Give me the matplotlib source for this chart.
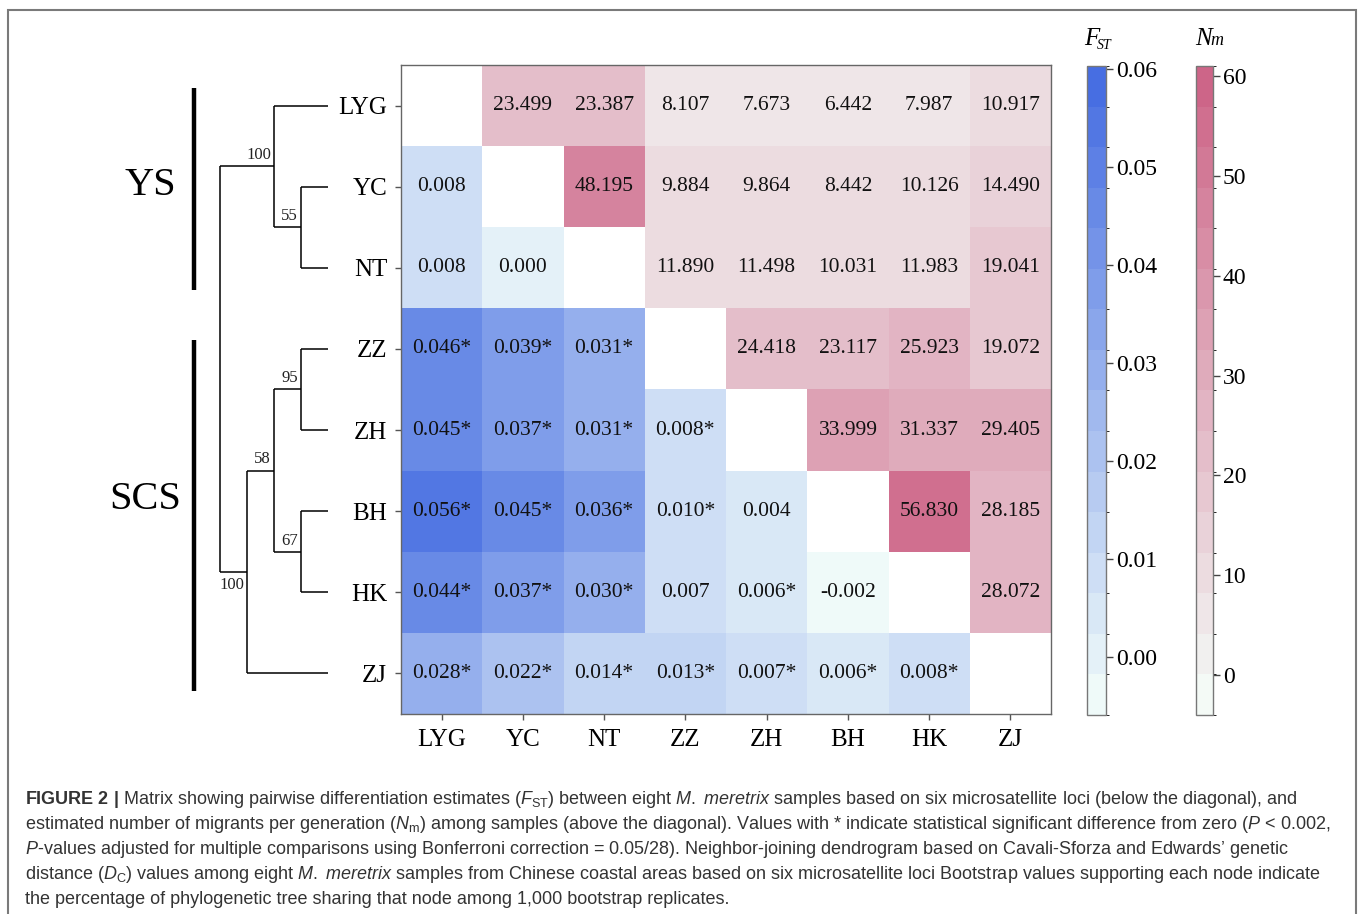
import numpy as np
import matplotlib
matplotlib.use("Agg")
import matplotlib.pyplot as plt
from matplotlib.colors import ListedColormap, BoundaryNorm
from matplotlib.patches import Rectangle
import matplotlib.cm as cm

# ---------------- data ----------------
populations = ["LYG", "YC", "NT", "ZZ", "ZH", "BH", "HK", "ZJ"]

# pairwise FST (below the diagonal), row by row
fst_lower = [
    [],
    [0.008],
    [0.008, 0.000],
    [0.046, 0.039, 0.031],
    [0.045, 0.037, 0.031, 0.008],
    [0.056, 0.045, 0.036, 0.010, 0.004],
    [0.044, 0.037, 0.030, 0.007, 0.006, -0.002],
    [0.028, 0.022, 0.014, 0.013, 0.007, 0.006, 0.008],
]
fst_sig = [
    [],
    [False],
    [False, False],
    [True, True, True],
    [True, True, True, True],
    [True, True, True, True, False],
    [True, True, True, False, True, False],
    [True, True, True, True, True, True, True],
]
# Nm (above the diagonal), row by row
nm_upper = [
    [23.499, 23.387, 8.107, 7.673, 6.442, 7.987, 10.917],
    [48.195, 9.884, 9.864, 8.442, 10.126, 14.490],
    [11.890, 11.498, 10.031, 11.983, 19.041],
    [24.418, 23.117, 25.923, 19.072],
    [33.999, 31.337, 29.405],
    [56.830, 28.185],
    [28.072],
    [],
]
fst_ticks = [0.00, 0.01, 0.02, 0.03, 0.04, 0.05, 0.06]
nm_ticks = [0, 10, 20, 30, 40, 50, 60]
fst_range = (-0.0059, 0.0603)
nm_range = (-4.0, 61.0)
n_bins = 16

# neighbour-joining tree topology and bootstrap support
tree = (("LYG", ("YC", "NT")), ((("ZZ", "ZH"), ("BH", "HK")), "ZJ"))
bootstrap = [
    (("LYG", ("YC", "NT")), "100", "above"),
    (("YC", "NT"), "55", "above"),
    ((("ZZ", "ZH"), ("BH", "HK")), "58", "above"),
    (("ZZ", "ZH"), "95", "above"),
    (("BH", "HK"), "67", "above"),
    (((("ZZ", "ZH"), ("BH", "HK")), "ZJ"), "100", "below"),
]

caption_lines = [
    r"$\mathbf{FIGURE\ 2\ |}$ Matrix showing pairwise differentiation estimates ($F_{\mathrm{ST}}$) between eight $\mathit{M.}$ $\mathit{meretrix}$ samples based on six microsatellite loci (below the diagonal), and",
    r"estimated number of migrants per generation ($N_{\mathrm{m}}$) among samples (above the diagonal). Values with * indicate statistical significant difference from zero ($\mathit{P}$ < 0.002,",
    r"$\mathit{P}$-values adjusted for multiple comparisons using Bonferroni correction = 0.05/28). Neighbor-joining dendrogram based on Cavali-Sforza and Edwards’ genetic",
    r"distance ($D_{\mathrm{C}}$) values among eight $\mathit{M.}$ $\mathit{meretrix}$ samples from Chinese coastal areas based on six microsatellite loci Bootstrap values supporting each node indicate",
    r"the percentage of phylogenetic tree sharing that node among 1,000 bootstrap replicates.",
]

# ---------------- style ----------------
plt.rcParams['font.family'] = ['Liberation Serif', 'DejaVu Serif']
plt.rcParams['mathtext.fontset'] = 'custom'
plt.rcParams['mathtext.rm'] = 'Liberation Sans'
plt.rcParams['mathtext.it'] = 'Liberation Sans:italic'
plt.rcParams['mathtext.bf'] = 'Liberation Sans:bold'

W, H = 1360, 914
fig = plt.figure(figsize=(W / 100, H / 100), dpi=100)

def px_rect(x0, y0, x1, y1):
    return [x0 / W, 1 - y1 / H, (x1 - x0) / W, (y1 - y0) / H]

def make_cmap(c_low, c_high, n):
    c_low = np.array(c_low) / 255.0
    c_high = np.array(c_high) / 255.0
    t = (np.arange(n) + 0.5) / n
    cols = [tuple(c_low + (c_high - c_low) * v) for v in t]
    return ListedColormap(cols)

mint = (245, 255, 250)
fst_cmap = make_cmap(mint, (65, 105, 225), n_bins)
nm_cmap = make_cmap(mint, (204, 96, 132), n_bins)
fst_norm = BoundaryNorm(np.linspace(fst_range[0], fst_range[1], n_bins + 1), n_bins)
nm_norm = BoundaryNorm(np.linspace(nm_range[0], nm_range[1], n_bins + 1), n_bins)

n = len(populations)
fst = np.full((n, n), np.nan)
nm = np.full((n, n), np.nan)
for i in range(n):
    for j, v in enumerate(fst_lower[i]):
        fst[i, j] = v
    for k, v in enumerate(nm_upper[i]):
        nm[i, i + 1 + k] = v

# ---------------- heatmap ----------------
hx0, hy0, hx1, hy1 = 401, 65, 1051, 714
ax = fig.add_axes(px_rect(hx0, hy0, hx1, hy1))
ax.pcolormesh(np.arange(n + 1), np.arange(n + 1), np.ma.masked_invalid(fst),
              cmap=fst_cmap, norm=fst_norm)
ax.pcolormesh(np.arange(n + 1), np.arange(n + 1), np.ma.masked_invalid(nm),
              cmap=nm_cmap, norm=nm_norm)
ax.set_xlim(0, n)
ax.set_ylim(n, 0)
for i in range(n):
    for j in range(n):
        if not np.isnan(fst[i, j]):
            s = f"{fst[i, j]:.3f}" + ("*" if fst_sig[i][j] else "")
        elif not np.isnan(nm[i, j]):
            s = f"{nm[i, j]:.3f}"
        else:
            continue
        ax.text(j + 0.5, i + 0.5, s, ha='center', va='center', fontsize=15.5,
                color='#111111')
ax.set_xticks(np.arange(n) + 0.5)
ax.set_yticks(np.arange(n) + 0.5)
ax.set_xticklabels(populations, fontsize=18)
ax.set_yticklabels(populations, fontsize=18)
ax.tick_params(axis='both', length=4, width=1, color='#555555', pad=7)
ax.tick_params(axis='y', pad=6)
for sp in ax.spines.values():
    sp.set_color('#666666')
    sp.set_linewidth(1.0)

# ---------------- colorbars ----------------
def add_cbar(x0, x1, cmap, norm, ticks, fmt):
    cax = fig.add_axes(px_rect(x0, hy0 + 1, x1, hy1 + 1))
    sm = cm.ScalarMappable(norm=norm, cmap=cmap)
    cb = fig.colorbar(sm, cax=cax, ticks=ticks)
    cb.ax.set_yticklabels([fmt(t) for t in ticks], fontsize=17)
    cb.outline.set_edgecolor('#777777')
    cb.outline.set_linewidth(1.0)
    cb.ax.tick_params(length=5, width=1, color='#444444', pad=2)
    return cb

add_cbar(1087, 1106, fst_cmap, fst_norm, fst_ticks, lambda t: f"{t:.2f}")
add_cbar(1196, 1213, nm_cmap, nm_norm, nm_ticks, lambda t: f"{t:d}")

fig.text(1084 / W, 1 - 45 / H, "F", fontsize=18, style='italic', ha='left', va='baseline')
fig.text(1097 / W, 1 - 49 / H, "ST", fontsize=10, style='italic', ha='left', va='baseline')
fig.text(1195 / W, 1 - 45 / H, "N", fontsize=18, style='italic', ha='left', va='baseline')
fig.text(1210 / W, 1 - 45 / H, "m", fontsize=13, style='italic', ha='left', va='baseline')

# ---------------- dendrogram ----------------
tax = fig.add_axes(px_rect(0, hy0, hx0, hy1))
tax.set_xlim(0, hx0)
tax.set_ylim(n, 0)
tax.axis('off')

leaf_x, step = 328, 27
positions = {}

def layout(node):
    if isinstance(node, str):
        y = populations.index(node) + 0.5
        positions[node] = (leaf_x, y)
        return y, 0
    res = [layout(c) for c in node]
    h = max(r[1] for r in res) + 1
    x = leaf_x - h * step
    ys = [r[0] for r in res]
    for c, (cy, ch) in zip(node, res):
        cx = leaf_x - ch * step
        tax.plot([x, cx], [cy, cy], color='black', lw=1.1, solid_capstyle='butt')
    tax.plot([x, x], [min(ys), max(ys)], color='black', lw=1.1, solid_capstyle='butt')
    y = (min(ys) + max(ys)) / 2
    positions[node] = (x, y)
    return y, h

layout(tree)
for node, lab, where in bootstrap:
    x, y = positions[node]
    if where == "above":
        tax.text(x - 3, y - 0.04, lab, ha='right', va='bottom', fontsize=12, color='#222222')
    else:
        tax.text(x - 3, y + 0.06, lab, ha='right', va='top', fontsize=12, color='#222222')

# region bars and names
tax.plot([194, 194], [0.28, 2.77], color='black', lw=3.2, solid_capstyle='butt')
tax.plot([194, 194], [3.39, 7.72], color='black', lw=3.2, solid_capstyle='butt')
tax.text(150, 1.48, "YS", fontsize=29, ha='center', va='center')
tax.text(145, 5.36, "SCS", fontsize=29, ha='center', va='center')

# ---------------- frame and caption ----------------
fig.add_artist(Rectangle((8 / W, -0.05), (1356 - 8) / W, 1 - 10 / H + 0.05,
                         transform=fig.transFigure, fill=False,
                         edgecolor='#7a7a7a', linewidth=1.5))
for k, line in enumerate(caption_lines):
    fig.text(25 / W, 1 - (804 + 25 * k) / H, line, fontsize=12.95,
             family='Liberation Sans', color='#333333', ha='left', va='baseline')

fig.savefig("out.png", dpi=100)
